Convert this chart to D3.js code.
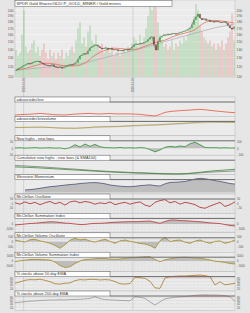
<!DOCTYPE html>
<html><head><meta charset="utf-8">
<script src="https://cdn.jsdelivr.net/npm/d3@7"></script>
<style>body{margin:0;background:#e6e6e6}svg{display:block}</style>
</head><body><svg id="c" width="250" height="313"></svg>
<script>
// ---------------- DATA ----------------
const chartTitle = "SPDR Gold Shares/GLD/ P_GOLD_MINER / Gold miners";
const priceTicks = [110,120,130,140,150,160,170,180,190,200];
const dateTicks = ["2019-01-01","2020-01-01"];
const dateRange = ["2018-12-03","2020-12-07"];
const closes = [116,117.5,118.5,120,121,122,123.5,122.5,124,125,125.5,126,124.5,123.5,122,121.5,121,120.5,122,120,
119,118.5,119.5,118,119,120,121,122,121.5,123,124,128,132,133,135,134,138,142,143.5,145,146,144,142,
140.5,141.5,142,140,141.5,140,139.5,140,138.5,139,138,139.5,140,139,141,143,146,147,146.5,148,147.5,
149,150,153,156,157,146,139,150,156,158,160,159,161,160,161.5,162,160.5,162,163,164,165,166,168,170,
175,183,188,193,186,183,185,182,183,180,181,179,181,180,179,178.5,180,178,174,170,168,172];
const volumes = [9,7,8,14,22,10,8,9,11,12, 8,10,7,9,11,8,6,9,7,8, 6,8,7,9,6,8,7,9,10,8,
12,16,18,11,13,10,15,17,12,11, 14,10,9,11,8,10,9,8,10,7, 8,9,7,8,9,8,10,9,11,13,
12,10,14,11,13,16,20,24,22,25, 23,18,14,12,10,11,9,10,12,9, 11,10,12,11,13,12,14,16,18,20,
24,22,17,15,13,12,11,12,10,11, 9,11,10,12,9,11,13,15,21,12];
const sma50 = [116,118,121,123.5,122.5,120.5,120.5,124,133,139,141.5,140.5,140,144,149,152,158,162,167,178,182,180.5,178];
const sma200 = [116,117,118,119,120,121,122,124,127,130,133,136,139,142.5,146,150,154,158,162,166,170,173,176];

const panelTitles = ["advancedecline","advancedeclinevolume","New highs - new lows",
 "Cumulative new highs - new lows (& SMA100)","Weinstein Momentum","McClellan Oscillator",
 "McClellan Summation Index","McClellan Volume Oscillator","McClellan Volume Summation Index",
 "% stocks above 50 day EMA","% stocks above 200 day EMA"];

const advDecl = [10,12,14,15,18,21,18,15,12,11,10,13,16,18,20,21,18,17,19,20,18,17,18,17,16,14,10,6,3,14,28,34,37,40,42,44,47,49,46,42,38,35,31,28,26];
const advDeclVol = [59,58,59,60,60,61,60,58,55,53,52,53,52,54,56,58,62,63,64,64,65,66,68,70,72,73,75,76,76,78,80,82,84,86,88,90,92,94,96,96,96,95,95,94,93];
const advDeclVolMA = [57,58,57,53,57,62,68,73,80,88,93,94];
const newHiLo = [5,8,3,6,10,4,6,8,3,5,-8,10,55,20,65,30,60,25,10,8,6,12,5,8,4,10,6,-20,-55,-25,15,30,20,35,25,70,92,55,12,8,10,5,8,4,6];
const cumHiLo = [63,60,56,52,47,42,38,33,28,24,20,17,14,12,9,7,5,6,10,15,19,22,25];
const cumHiLoSma = [53,51,48,44,40,36,32,28,24,20,17,14,11,9,7,5,4,6,12,20,27,32,37];
const weinstein = [null,null,19,22,26,32,38,44,47,52,56,60,63,68,71,74,75,72,66,57,52,48,45,44,47,52,55,58,52,49,66,76,78,80,84,92,102,108,104,98,90,84,76,68,64];
const mcOsc = [5,-10,15,-5,10,-15,5,20,-5,10,-20,15,25,5,20,10,-10,5,-5,15,-15,0,10,-10,5,15,-20,-35,10,30,40,5,20,-10,10,0,-15,-45,-55,-30,-10,10,-35,-15,15];
const mcSum = [-200,-100,0,100,150,250,350,450,420,300,180,120,0,-100,-80,50,120,140,200,280,350,400,430,470,460,500,560,600,350,140,500,780,800,700,660,600,520,460,330,220,160,80,-100,-300,-400];
const mcVolOsc = [170,60,-40,200,240,80,-20,-160,-380,-660,-300,150,340,180,260,60,-40,120,240,30,-160,80,170,40,-60,-180,-230,-380,-660,100,440,20,120,170,-40,-160,60,170,-20,-160,30,80,-160,-40,170];
const mcVolSum = [-700,200,800,1500,1700,1500,1200,1000,-1000,-4500,-6500,-5700,-2500,0,1500,1800,2300,2700,2500,2000,1700,2000,2600,3200,3500,3800,4200,4300,1500,-700,1200,2200,3000,3600,3800,3500,3000,2700,2000,1000,-200,-700,-1500,-2500,-3000];
const pct50 = [50,58,68,72,71,74,68,59,47,45,50,52,66,72,70,74,73,70,72,70,60,47,45,48,86,84,80,62,22,19,82,90,92,94,94,96,98,100,96,90,39,59,40,45,50];
const pct200 = [47,50,54,57,58,61,62,64,63,65,64,66,67,68,70,73,84,72,66,64,63,61,60,59,84,80,74,52,33,53,70,76,80,83,85,88,92,94,95,94,94,93,90,84,55];

// ---------------- DRAW ----------------
const svg = d3.select("#c");
const FONT = "'Liberation Sans', Arial, sans-serif";
const L = 15, R = 235;
const gBg = svg.append("g"), gGrid = svg.append("g"), gData = svg.append("g"), gFront = svg.append("g");

const parse = d3.timeParse("%Y-%m-%d");
const xT = d3.scaleTime().domain(dateRange.map(parse)).range([L, R]);
const xP = d3.scaleLinear().domain([0, closes.length - 1]).range([L + 1, R - 1]);
const xS = d3.scaleLinear().domain([0, sma50.length - 1]).range([L + 1, R - 1]);
const xG = d3.scaleLinear().domain([0, advDecl.length - 1]).range([L, R]);
const yP = d3.scaleLog().domain([110, 200]).range([76, 10]);
const yV = d3.scaleLinear().domain([0, 25]).range([77, 1]);

// main background
gBg.append("rect").attr("x", L).attr("y", 0).attr("width", R - L).attr("height", 77)
  .attr("fill", "#ebebeb").attr("stroke", "#bcbcbc").attr("stroke-width", 0.5);
gBg.selectAll("line.pg").data(priceTicks).join("line")
  .attr("x1", L).attr("x2", R).attr("y1", d => yP(d)).attr("y2", d => yP(d))
  .attr("stroke", "#fafafa").attr("stroke-width", 0.6);

// volume bars
gData.append("g").selectAll("rect").data(volumes).join("rect")
  .attr("x", (d, i) => xP(i) - 0.55).attr("width", 1.1)
  .attr("y", d => yV(d)).attr("height", d => yV(0) - yV(d))
  .attr("fill", (d, i) => (i === 0 || closes[i] >= closes[i - 1]) ? "rgba(105,190,105,0.5)" : "rgba(225,125,125,0.5)");

// moving averages
gData.append("path").datum(sma200).attr("fill", "none").attr("stroke", "#a9a9b4").attr("stroke-width", 0.7)
  .attr("d", d3.line().x((d, i) => xS(i)).y(d => yP(d)).curve(d3.curveMonotoneX));
gData.append("path").datum(sma50).attr("fill", "none").attr("stroke", "#e8614e").attr("stroke-width", 0.7)
  .attr("d", d3.line().x((d, i) => xS(i)).y(d => yP(d)).curve(d3.curveMonotoneX));

// price
gData.append("path").datum(closes).attr("fill", "none").attr("stroke", "#2e502e").attr("stroke-width", 0.4)
  .attr("d", d3.line().x((d, i) => xP(i)).y(d => yP(d)));
gData.append("g").selectAll("rect").data(closes).join("rect")
  .attr("x", (d, i) => xP(i) - 0.6).attr("width", 1.2)
  .attr("y", (d, i) => Math.min(yP(d), yP(i ? closes[i - 1] : d)))
  .attr("height", (d, i) => Math.max(0.7, Math.abs(yP(d) - yP(i ? closes[i - 1] : d))))
  .attr("fill", (d, i) => (i === 0 || d >= closes[i - 1]) ? "#35953a" : "#7a2020");

// main title box
gFront.append("rect").attr("x", L).attr("y", 0.3).attr("width", 157).attr("height", 6.4)
  .attr("fill", "#fff").attr("stroke", "#555").attr("stroke-width", 0.5);
gFront.append("text").attr("x", 16.5).attr("y", 5).attr("font-family", FONT).attr("font-size", 4.1)
  .attr("fill", "#333").text(chartTitle);

function styleAxis(g, size) {
  g.select(".domain").remove();
  g.selectAll("text").attr("font-family", FONT).attr("font-size", size).attr("fill", "#555");
}
gFront.append("g").attr("transform", `translate(${L},0)`)
  .call(d3.axisLeft(yP).tickValues(priceTicks).tickFormat(d3.format("d")).tickSize(0).tickPadding(1.5))
  .call(g => styleAxis(g, 3.4));
gFront.append("g").attr("transform", `translate(${R},0)`)
  .call(d3.axisRight(yP).tickValues(priceTicks).tickFormat(d3.format("d")).tickSize(0).tickPadding(1.5))
  .call(g => styleAxis(g, 3.4));

// date labels (vertical)
gFront.selectAll("text.dt").data(dateTicks).join("text")
  .attr("transform", d => `translate(${xT(parse(d)) + 1},78) rotate(-90)`)
  .attr("text-anchor", "end").attr("font-family", FONT).attr("font-size", 2.8).attr("fill", "#666")
  .text(d => d);

// panels
const P0 = 97, PH = 19.4, HB = 5;
const panelDomains = [[0,100],[0,100],[-106,115],[0,100],[-11.4,97.9],[-111,47],[-1760,1120],[-1050,390],[-10600,3800],[3,90.3],[0.6,87.9]];
const panelTicksL = [null,null,[100,0,-100],null,null,[50,0,-50],[0,-1000],[500,0,-500],[5000,0,-5000],[20,40,60,80],[20,40,60,80]];
const panelLabelsL = [null,null,["50","0","-50"],null,null,["50","0","-50"],["0","-1000"],["500","0","-500"],["5000","0","-5000"],["20","40","60","80"],["20","40","60","80"]];
const dottedPanels = [5,6,7,8,9,10];

const panels = panelTitles.map((t, i) => {
  const top = P0 + i * PH;
  const y = d3.scaleLinear().domain(panelDomains[i]).range([top + PH, top + HB]);
  gBg.append("rect").attr("x", L).attr("y", top).attr("width", R - L).attr("height", PH)
    .attr("fill", "#ebebeb").attr("stroke", "#b8b8b8").attr("stroke-width", 0.5);
  if (dottedPanels.includes(i)) {
    const tv = y.ticks(6).filter(v => y(v) > top + HB + 0.5 && y(v) < top + PH - 0.5);
    gBg.selectAll(null).data(tv).join("line")
      .attr("x1", L).attr("x2", R).attr("y1", d => y(d)).attr("y2", d => y(d))
      .attr("stroke", "#b0b0b0").attr("stroke-width", 0.35).attr("stroke-dasharray", "0.7,0.7");
  }
  gFront.append("rect").attr("x", L).attr("y", top).attr("width", 95).attr("height", HB)
    .attr("fill", "#fff").attr("stroke", "#5a5a5a").attr("stroke-width", 0.5);
  gFront.append("line").attr("x1", L + 95).attr("x2", R).attr("y1", top + HB).attr("y2", top + HB)
    .attr("stroke", "#6a6a6a").attr("stroke-width", 1);
  gFront.append("text").attr("x", L + 1.5).attr("y", top + 3.8).attr("font-family", FONT)
    .attr("font-size", 3.9).attr("fill", "#333").text(t);
  if (panelTicksL[i]) {
    const labs = panelLabelsL[i];
    gFront.append("g").attr("transform", `translate(${L},0)`)
      .call(d3.axisLeft(y).tickValues(panelTicksL[i]).tickFormat((d, k) => labs[k]).tickSize(0).tickPadding(2))
      .call(g => styleAxis(g, 2.8));
    gFront.append("g").attr("transform", `translate(${R},0)`)
      .call(d3.axisRight(y).tickValues(panelTicksL[i]).tickFormat(d3.format("d")).tickSize(0).tickPadding(2))
      .call(g => styleAxis(g, 2.8));
  }
  return { top, y };
});

// vertical date gridlines
gGrid.selectAll("line").data(dateTicks).join("line")
  .attr("x1", d => xT(parse(d))).attr("x2", d => xT(parse(d)))
  .attr("y1", 0).attr("y2", P0 + 11 * PH)
  .attr("stroke", "#c4c4c4").attr("stroke-width", 0.7);

function linePath(data, y, color, w, xs) {
  xs = xs || xG;
  gData.append("path").datum(data).attr("fill", "none").attr("stroke", color).attr("stroke-width", w || 0.7)
    .attr("d", d3.line().defined(d => d !== null).x((d, i) => xs(i)).y(d => y(d)));
}
function areaPath(data, y, base, color) {
  gData.append("path").datum(data).attr("fill", color)
    .attr("d", d3.area().defined(d => d !== null).x((d, i) => xG(i)).y0(y(base)).y1(d => y(d)));
}
function aboveArea(data, y, thr, color) {
  gData.append("path").datum(data).attr("fill", color)
    .attr("d", d3.area().x((d, i) => xG(i)).y0(y(thr)).y1(d => y(Math.max(d, thr))));
}
const FILL = "rgba(175,175,175,0.75)";
const xA = d3.scaleLinear().domain([0, advDeclVolMA.length - 1]).range([L, R]);
const xC = d3.scaleLinear().domain([0, cumHiLo.length - 1]).range([L, R]);

linePath(advDecl, panels[0].y, "#e8553f", 0.8);
linePath(advDeclVolMA, panels[1].y, "#b5b5b5", 0.6, xA);
linePath(advDeclVol, panels[1].y, "#b49a48", 0.8);
areaPath(newHiLo, panels[2].y, 0, FILL);
linePath(newHiLo, panels[2].y, "#2f8f2f", 0.8);
linePath(cumHiLo, panels[3].y, "#6a6a6a", 0.7, xC);
linePath(cumHiLoSma, panels[3].y, "#3a8a3a", 0.8, xC);
areaPath(weinstein, panels[4].y, 0, FILL);
linePath(weinstein, panels[4].y, "#4d5275", 0.8);
linePath(mcOsc, panels[5].y, "#b02525", 0.8);
areaPath(mcSum, panels[6].y, 0, FILL);
linePath(mcSum, panels[6].y, "#c03535", 0.8);
areaPath(mcVolOsc, panels[7].y, 0, FILL);
linePath(mcVolOsc, panels[7].y, "#a88a22", 0.8);
areaPath(mcVolSum, panels[8].y, 0, FILL);
linePath(mcVolSum, panels[8].y, "#a88a22", 0.8);
aboveArea(pct50, panels[9].y, 80, "rgba(235,180,170,0.7)");
linePath(pct50, panels[9].y, "#a57a2a", 0.8);
aboveArea(pct200, panels[10].y, 80, "rgba(235,180,170,0.7)");
linePath(pct200, panels[10].y, "#8c8c8c", 0.7);
</script>
</body></html>
